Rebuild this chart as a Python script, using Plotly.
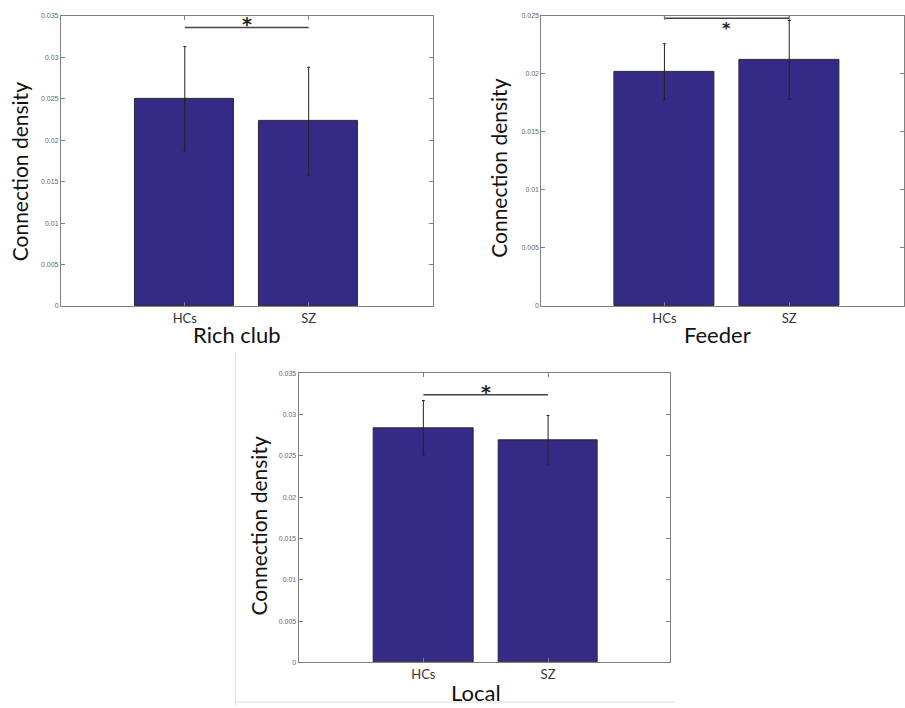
import plotly.graph_objects as go

categories = ["HCs", "SZ"]
rich_club = [0.0250, 0.0223]
rich_club_err = [0.0063, 0.0065]
feeder = [0.0202, 0.0212]
feeder_err = [0.0024, 0.0034]
local = [0.0284, 0.0269]
local_err = [0.0033, 0.0030]
sig_rich = 0.0336
sig_feeder = 0.0248
sig_local = 0.0324
panel_titles = ["Rich club", "Feeder", "Local"]
ytick_35 = [0, 0.005, 0.01, 0.015, 0.02, 0.025, 0.03, 0.035]
ytick_35_text = ["0", "0.005", "0.01", "0.015", "0.02", "0.025", "0.03", "0.035"]
ytick_25 = [0, 0.005, 0.01, 0.015, 0.02, 0.025]
ytick_25_text = ["0", "0.005", "0.01", "0.015", "0.02", "0.025"]

W, H = 905, 708
BAR = "#352a86"
xpos = [1, 2]

def px(x):
    return x / W

def py(y):
    return 1 - y / H

fig = go.Figure()
panels = [
    dict(vals=rich_club, err=rich_club_err, ax="", sig=sig_rich),
    dict(vals=feeder, err=feeder_err, ax="2", sig=sig_feeder),
    dict(vals=local, err=local_err, ax="3", sig=sig_local),
]
for p in panels:
    fig.add_trace(go.Bar(
        x=xpos, y=p["vals"], width=0.8,
        marker=dict(color=BAR, line=dict(color="#2a2a2a", width=1)),
        error_y=dict(type="data", array=p["err"], visible=True, color="#222222", thickness=1, width=1.5),
        xaxis="x" + p["ax"], yaxis="y" + p["ax"], showlegend=False,
    ))
    fig.add_trace(go.Scatter(
        x=xpos, y=[p["sig"], p["sig"]], mode="lines",
        line=dict(color="#444444", width=1.6),
        xaxis="x" + p["ax"], yaxis="y" + p["ax"], showlegend=False, hoverinfo="skip",
    ))

fig.add_trace(go.Scatter(
    x=[1, 1, None, 2, 2], y=[sig_feeder, sig_feeder + 0.0002, None, sig_feeder, sig_feeder + 0.0002],
    mode="lines", line=dict(color="#444444", width=1.2),
    xaxis="x2", yaxis="y2", showlegend=False, hoverinfo="skip"))

axis_common = dict(showgrid=False, zeroline=False, showline=True, linecolor="#808080", linewidth=1,
                   mirror="ticks", ticks="inside", ticklen=4, tickcolor="#808080")
xcommon = dict(axis_common, tickvals=xpos, ticktext=categories,
               tickfont=dict(family="Lato", size=13, color="#333333"))
ycommon = dict(axis_common, tickfont=dict(family="Liberation Sans", size=7, color="#666666"))

fig.update_layout(
    width=W, height=H, margin=dict(l=0, r=0, t=0, b=0),
    plot_bgcolor="white", paper_bgcolor="white",
    bargap=0,
    xaxis=dict(xcommon, domain=[px(61), px(433)], range=[0, 3], anchor="y"),
    yaxis=dict(ycommon, domain=[py(305), py(12)], range=[0, 0.035], anchor="x",
               tickvals=ytick_35, ticktext=ytick_35_text),
    xaxis2=dict(xcommon, domain=[px(542), 1.0], range=[0.014, 2.92], anchor="y2"),
    yaxis2=dict(ycommon, domain=[py(305), py(12)], range=[0, 0.025], anchor="x2",
                tickvals=ytick_25, ticktext=ytick_25_text),
    xaxis3=dict(xcommon, domain=[px(299), px(671)], range=[0, 2.98], anchor="y3"),
    yaxis3=dict(ycommon, domain=[py(665), py(373)], range=[0, 0.035], anchor="x3",
                tickvals=ytick_35, ticktext=ytick_35_text),
)

ann = []
ytitle_font = dict(family="Lato", size=21, color="#111111")
title_font = dict(family="Lato", size=22, color="#111111")
for (x, y) in [(19, 169), (499, 166), (259, 527)]:
    ann.append(dict(x=px(x), y=py(y), xref="paper", yref="paper", text="Connection density",
                    textangle=-90, showarrow=False, font=ytitle_font, xanchor="center", yanchor="middle"))
for t, (x, y) in zip(panel_titles, [(237, 334), (718, 334), (477, 695)]):
    ann.append(dict(x=px(x), y=py(y), xref="paper", yref="paper", text=t,
                    showarrow=False, font=title_font, xanchor="center", yanchor="middle"))
ast_font = dict(family="DejaVu Sans", size=19, color="#222222")
ann.append(dict(x=1.5, y=sig_rich, xref="x", yref="y", text="<b>*</b>", showarrow=False, font=ast_font, yanchor="bottom", yshift=-10))
ann.append(dict(x=1.5, y=sig_feeder, xref="x2", yref="y2", text="<b>*</b>", showarrow=False,
                font=dict(family="DejaVu Sans", size=16, color="#222222"), yanchor="top", yshift=1))
ann.append(dict(x=1.5, y=sig_local, xref="x3", yref="y3", text="<b>*</b>", showarrow=False, font=ast_font, yanchor="bottom", yshift=-10))
fig.update_layout(annotations=ann)

fig.add_shape(type="line", xref="paper", yref="paper", x0=px(236), x1=px(236), y0=0, y1=py(352),
              line=dict(color="#dddddd", width=1))
fig.add_shape(type="line", xref="paper", yref="paper", x0=px(236), x1=px(676), y0=py(705), y1=py(705),
              line=dict(color="#dddddd", width=1))

fig.write_html("out.html")
